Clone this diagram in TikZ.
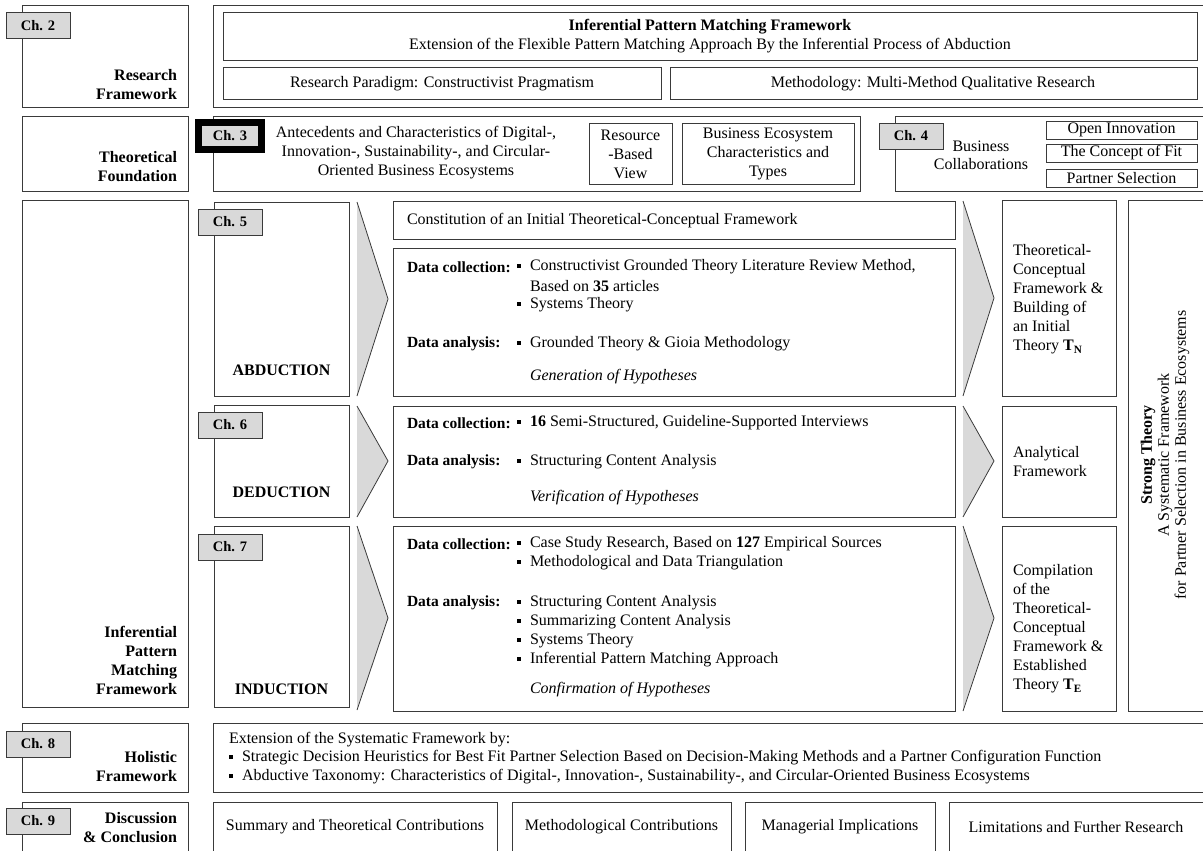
\documentclass[tikz,border=0pt]{standalone}
\usepackage{fontspec}
\setmainfont{Liberation Serif}
\definecolor{tabgray}{HTML}{D9D9D9}
\definecolor{edge}{HTML}{3A3A3A}
\newcommand{\sqb}{\raisebox{0.28ex}{\rule{4pt}{4pt}}}
\begin{document}
\begin{tikzpicture}[x=1pt,y=-1pt,
  every node/.style={inner sep=0pt, outer sep=0pt},
  frame/.style={draw=edge, line width=1pt, fill=white},
  chtab/.style={draw=edge, line width=1pt, fill=tabgray},
  chtext/.style={font=\fontsize{14.5}{16}\selectfont\bfseries},
  txt/.style={font=\fontsize{16}{19}\selectfont},
  btxt/.style={font=\fontsize{16}{19}\selectfont\bfseries},
  dlabel/.style={font=\fontsize{15.5}{19}\selectfont\bfseries, anchor=west},
  side/.style={btxt, anchor=east, align=right},
  lft/.style={txt, anchor=west},
  ital/.style={lft, font=\fontsize{16}{19}\selectfont\itshape},
  cen/.style={txt, align=center},
  chev/.style={fill=tabgray},
  chevline/.style={draw=edge, line width=0.8pt}
]
\useasboundingbox (0,0) rectangle (1203,851);
\clip (0,0) rectangle (1203,851);

% ---------- Research Framework ----------
\draw[frame] (22,6) rectangle (188,108);
\draw[chtab] (6,13) rectangle (70,39);
\node[chtext] (ch2) at (38,26) {Ch. 2};
\node[side] (rfw) at (177,85) {Research\\Framework};
\draw[frame] (213,6) rectangle (1212,108);
\draw[frame] (223,13) rectangle (1197,61);
\node[btxt] (ipm) at (710,27) {Inferential Pattern Matching Framework};
\node[txt] (ipmsub) at (710,46) {Extension of the Flexible Pattern Matching Approach By the Inferential Process of Abduction};
\draw[frame] (223,68) rectangle (661,100);
\node[txt] (parad) at (442,84) {Research Paradigm: Constructivist Pragmatism};
\draw[frame] (670,68) rectangle (1197,100);
\node[txt] (meth) at (933,84) {Methodology: Multi-Method Qualitative Research};

% ---------- Theoretical Foundation ----------
\draw[frame] (22,116) rectangle (188,191);
\node[side] (tf) at (177,166.5) {Theoretical\\Foundation};
\draw[frame] (213,116) rectangle (860,191);
\draw[draw=black, line width=7pt, fill=tabgray] (198.5,122.5) rectangle (261.5,149);
\node[chtext] (ch3) at (230,136) {Ch. 3};
\node[cen] (ante) at (416,153) {Antecedents and Characteristics of Digital-,\\Innovation-, Sustainability-, and Circular-\\Oriented Business Ecosystems};
\draw[frame] (589,123) rectangle (672,184);
\node[cen] (rbv) at (630.5,154) {Resource\\-Based\\View};
\draw[frame] (682,123) rectangle (854,184);
\node[cen] (bec) at (768,154) {Business Ecosystem\\Characteristics and\\Types};
\draw[frame] (895,116) rectangle (1212,191);
\draw[chtab] (879,123) rectangle (943,149);
\node[chtext] (ch4) at (911,136) {Ch. 4};
\node[cen, font=\fontsize{16}{18}\selectfont] (bcol) at (981,155) {Business\\Collaborations};
\draw[frame] (1046,121) rectangle (1197,139);
\node[txt] (oi) at (1121.5,130) {Open Innovation};
\draw[frame] (1046,144) rectangle (1197,162);
\node[txt] (cof) at (1121.5,153) {The Concept of Fit};
\draw[frame] (1046,169) rectangle (1197,187);
\node[txt] (ps) at (1121.5,178) {Partner Selection};

% ---------- Inferential Pattern Matching Framework ----------
\draw[frame] (22,200) rectangle (188,707);
\node[side] (ipmf) at (177,660.5) {Inferential\\Pattern\\Matching\\Framework};

% Chapter 5: abduction
\draw[frame] (214,202) rectangle (349,396);
\draw[chtab] (198,209) rectangle (262,235);
\node[chtext] (ch5) at (230,222) {Ch. 5};
\node[btxt] (abd) at (281.5,370) {ABDUCTION};
\fill[chev] (357,202) -- (388,299) -- (357,396) -- cycle;
\draw[chevline] (357,202) -- (388,299) -- (357,396);
\draw[frame] (393,201) rectangle (955,239);
\node[lft] (const) at (407,221) {Constitution of an Initial Theoretical-Conceptual Framework};
\draw[frame] (393,248) rectangle (955,396);
\node[dlabel] (dc5) at (407,267) {Data collection:};
\node[lft] (b51) at (517,267) {\sqb};
\node[lft] (t51) at (530,267) {Constructivist Grounded Theory Literature Review Method,};
\node[lft] (t52) at (530,286) {Based on \textbf{35} articles};
\node[lft] (b53) at (517,305) {\sqb};
\node[lft] (t53) at (530,305) {Systems Theory};
\node[dlabel] (da5) at (407,344) {Data analysis:};
\node[lft] (b54) at (517,344) {\sqb};
\node[lft] (t54) at (530,344) {Grounded Theory \& Gioia Methodology};
\node[ital] (gen) at (530,377) {Generation of Hypotheses};
\fill[chev] (963,201) -- (994,298) -- (963,396) -- cycle;
\draw[chevline] (963,201) -- (994,298) -- (963,396);
\draw[frame] (1002,200) rectangle (1116,396);
\node[lft, align=left] (tn) at (1013,299.5) {Theoretical-\\Conceptual\\Framework \&\\Building of\\an Initial\\Theory \textbf{T\textsubscript{N}}};

% Chapter 6: deduction
\draw[frame] (214,405) rectangle (349,517);
\draw[chtab] (198,412) rectangle (262,438);
\node[chtext] (ch6) at (230,425) {Ch. 6};
\node[btxt] (ded) at (281.5,492) {DEDUCTION};
\fill[chev] (357,406) -- (388,461) -- (357,517) -- cycle;
\draw[chevline] (357,406) -- (388,461) -- (357,517);
\draw[frame] (393,406) rectangle (955,517);
\node[dlabel] (dc6) at (407,423) {Data collection:};
\node[lft] (b61) at (517,423) {\sqb};
\node[lft] (t61) at (530,423) {\textbf{16} Semi-Structured, Guideline-Supported Interviews};
\node[dlabel] (da6) at (407,462) {Data analysis:};
\node[lft] (b62) at (517,462) {\sqb};
\node[lft] (t62) at (530,462) {Structuring Content Analysis};
\node[ital] (ver) at (530,498) {Verification of Hypotheses};
\fill[chev] (963,406) -- (994,461) -- (963,517) -- cycle;
\draw[chevline] (963,406) -- (994,461) -- (963,517);
\draw[frame] (1002,406) rectangle (1116,517);
\node[lft, align=left] (anf) at (1013,461.5) {Analytical\\Framework};

% Chapter 7: induction
\draw[frame] (214,526) rectangle (349,707);
\draw[chtab] (198,534) rectangle (262,560);
\node[chtext] (ch7) at (230,547) {Ch. 7};
\node[btxt] (ind) at (281.5,689) {INDUCTION};
\fill[chev] (357,526) -- (388,618) -- (357,710) -- cycle;
\draw[chevline] (357,526) -- (388,618) -- (357,710);
\draw[frame] (393,526) rectangle (955,711);
\node[dlabel] (dc7) at (407,544) {Data collection:};
\node[lft] (b71) at (517,544) {\sqb};
\node[lft] (t71) at (530,544) {Case Study Research, Based on \textbf{127} Empirical Sources};
\node[lft] (b72) at (517,563) {\sqb};
\node[lft] (t72) at (530,563) {Methodological and Data Triangulation};
\node[dlabel] (da7) at (407,603) {Data analysis:};
\node[lft] (b73) at (517,603) {\sqb};
\node[lft] (t73) at (530,603) {Structuring Content Analysis};
\node[lft] (b74) at (517,622) {\sqb};
\node[lft] (t74) at (530,622) {Summarizing Content Analysis};
\node[lft] (b75) at (517,641) {\sqb};
\node[lft] (t75) at (530,641) {Systems Theory};
\node[lft] (b76) at (517,660) {\sqb};
\node[lft] (t76) at (530,660) {Inferential Pattern Matching Approach};
\node[ital] (conf) at (530,690) {Confirmation of Hypotheses};
\fill[chev] (963,526) -- (994,618) -- (963,711) -- cycle;
\draw[chevline] (963,526) -- (994,618) -- (963,711);
\draw[frame] (1002,526) rectangle (1116,711);
\node[lft, align=left] (te) at (1013,629) {Compilation\\of the\\Theoretical-\\Conceptual\\Framework \&\\Established\\Theory \textbf{T\textsubscript{E}}};

% Strong theory column
\draw[frame] (1128,200) rectangle (1212,711);
\node[cen, rotate=90, font=\fontsize{16}{17}\selectfont] (strong) at (1165,455) {\textbf{Strong Theory}\\A Systematic Framework\\for Partner Selection in Business Ecosystems};

% ---------- Holistic Framework ----------
\draw[frame] (22,723) rectangle (188,792);
\draw[chtab] (6,731) rectangle (70,757);
\node[chtext] (ch8) at (38,744) {Ch. 8};
\node[side] (hf) at (177,767) {Holistic\\Framework};
\draw[frame] (213,723) rectangle (1212,792);
\node[lft] (ext) at (229,740) {Extension of the Systematic Framework by:};
\node[lft] (b81) at (229,758) {\sqb};
\node[lft] (t81) at (242,758) {Strategic Decision Heuristics for Best Fit Partner Selection Based on Decision-Making Methods and a Partner Configuration Function};
\node[lft] (b82) at (229,777) {\sqb};
\node[lft] (t82) at (242,777) {Abductive Taxonomy: Characteristics of Digital-, Innovation-, Sustainability-, and Circular-Oriented Business Ecosystems};

% ---------- Discussion & Conclusion ----------
\draw[frame] (22,802) rectangle (188,860);
\draw[chtab] (6,808) rectangle (70,834);
\node[chtext] (ch9) at (38,821) {Ch. 9};
\node[side] (dc) at (177,827.5) {Discussion\\\& Conclusion};
\draw[frame] (213,802) rectangle (497,860);
\node[txt] (sum) at (355,827) {Summary and Theoretical Contributions};
\draw[frame] (512,802) rectangle (731,860);
\node[txt] (mc) at (621.5,827) {Methodological Contributions};
\draw[frame] (745,802) rectangle (935,860);
\node[txt] (mi) at (840,827) {Managerial Implications};
\draw[frame] (949,802) rectangle (1212,860);
\node[txt] (lim) at (1076,827) {Limitations and Further Research};
\end{tikzpicture}
\end{document}
